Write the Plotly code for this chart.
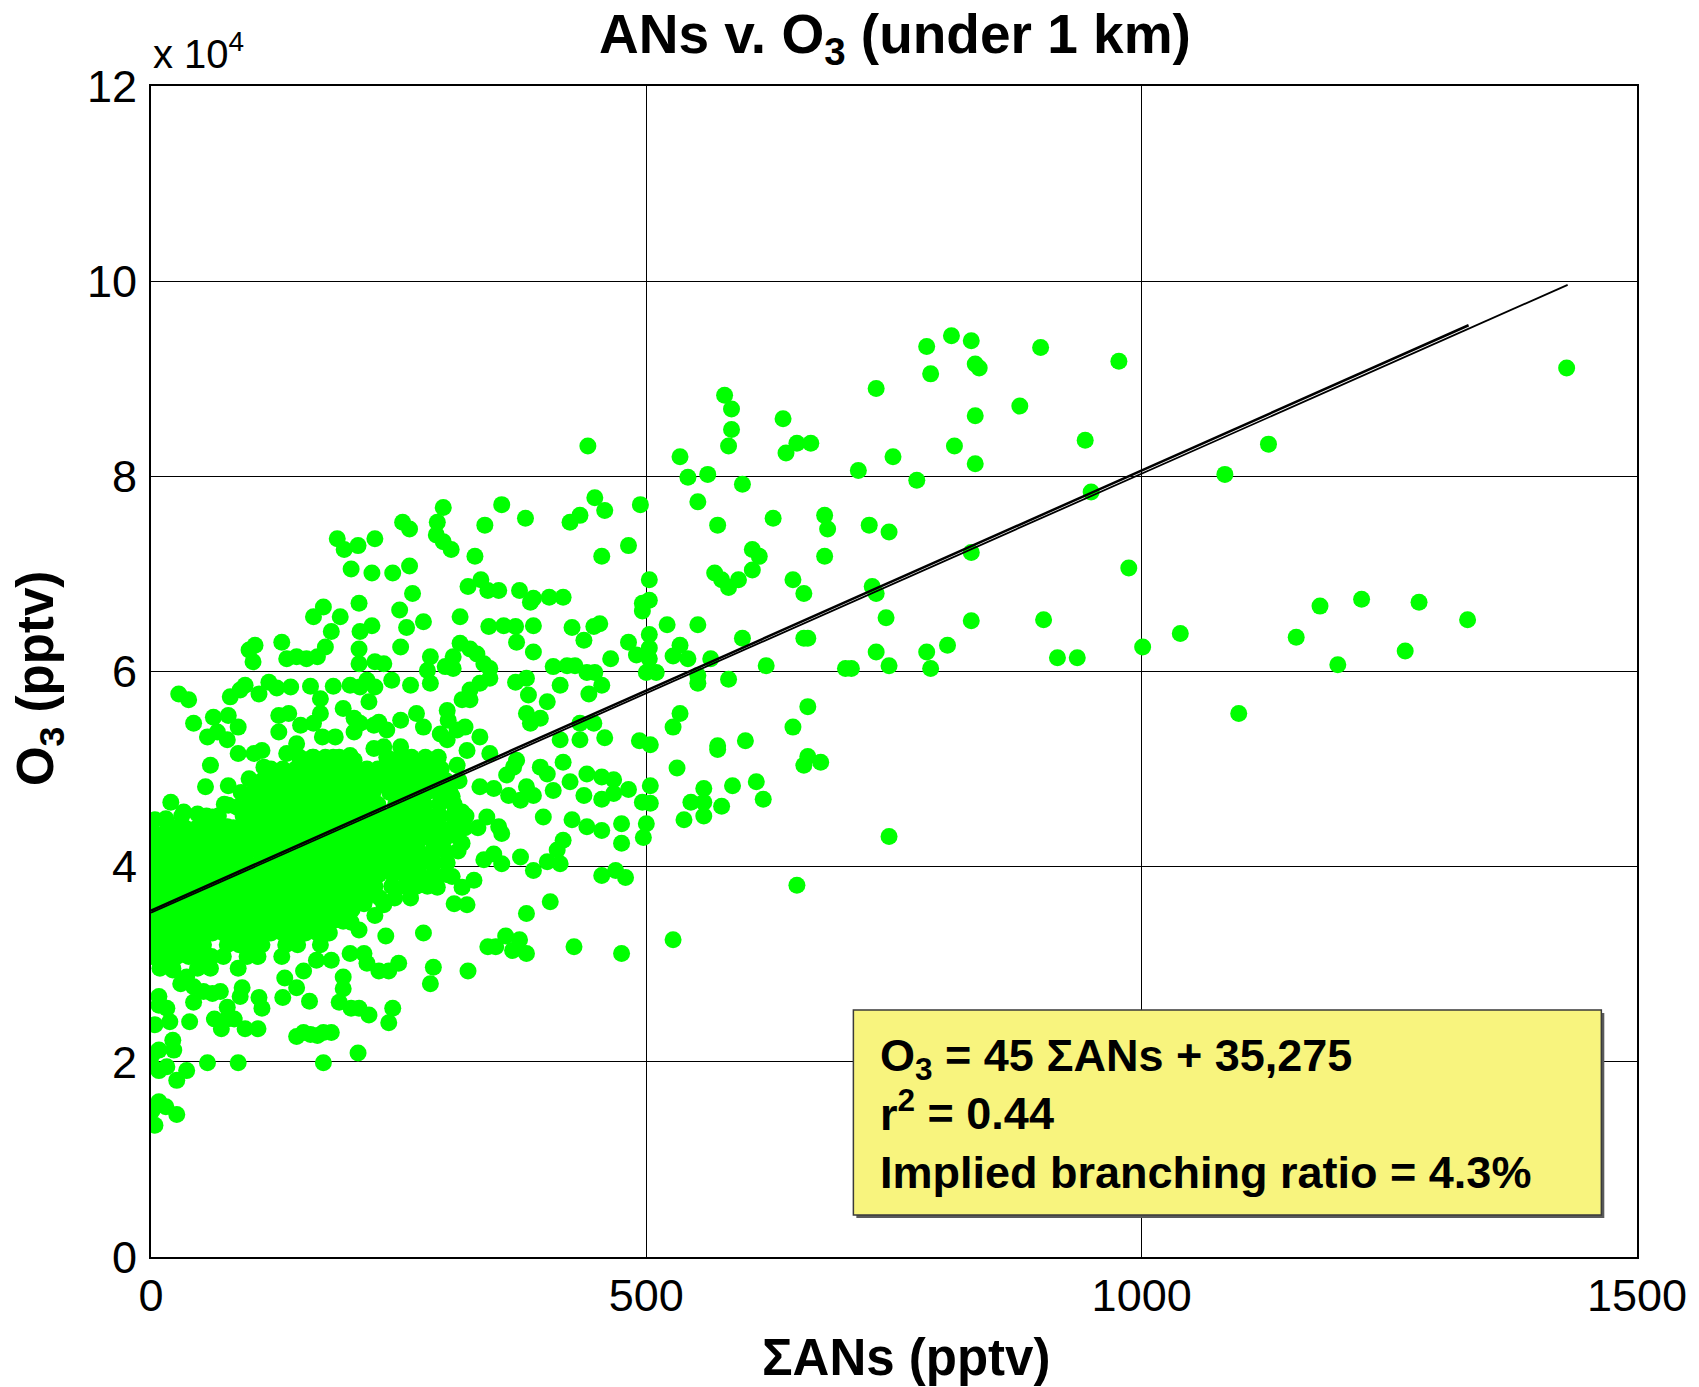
import plotly.graph_objects as go

# Sigma-ANs (pptv) vs O3, O3 stored in units of 1e4 pptv (axis multiplier "x 10^4")

far_right = [
    (898, 9.32), (977, 9.18), (877, 8.72), (943, 8.37), (1429, 9.11), (1128, 8.33),
    (1084, 8.02), (949, 7.84), (987, 7.06), (901, 6.53), (915, 6.14), (935, 6.14),
    (1001, 6.25), (1039, 6.39), (1156, 6.35), (1180, 6.67), (1222, 6.74), (1280, 6.71),
    (1329, 6.53), (1266, 6.21), (1198, 6.07), (1098, 5.57),
]

mid_upper = [
    (808, 9.44), (828, 9.39), (783, 9.33), (832, 9.15), (836, 9.11), (787, 9.05),
    (732, 8.90), (579, 8.83), (586, 8.69), (832, 8.62), (638, 8.59), (586, 8.48),
    (583, 8.31), (652, 8.34), (666, 8.34), (641, 8.24), (811, 8.31), (749, 8.20),
    (832, 8.13), (534, 8.20), (542, 7.99), (562, 8.02), (714, 8.06), (773, 7.96),
    (597, 7.92), (552, 7.74), (494, 7.71), (572, 7.50), (628, 7.57), (680, 7.60),
    (683, 7.46), (725, 7.50), (745, 7.43), (607, 7.25), (614, 7.18), (607, 7.04),
    (680, 7.18), (828, 7.22), (569, 7.01), (576, 6.94), (583, 6.86), (593, 6.94),
    (503, 6.94), (648, 6.94), (659, 6.80), (728, 6.87), (732, 6.80), (496, 6.70),
    (503, 6.73), (496, 6.62), (742, 6.55), (828, 6.52), (521, 6.48), (552, 6.48),
    (503, 6.38), (597, 6.34), (659, 6.34), (663, 6.34), (732, 6.20), (745, 6.06),
    (783, 6.20), (804, 6.27), (787, 6.03), (701, 6.03), (707, 6.03), (621, 6.06),
    (583, 5.92), (552, 5.96), (552, 5.88), (534, 6.27), (527, 6.16), (542, 6.13),
    (565, 6.13), (503, 6.24), (503, 6.13), (500, 5.99), (510, 5.99),
]

mid_lower = [
    (455, 5.86), (663, 5.64), (648, 5.43), (534, 5.57), (527, 5.43), (458, 5.32),
    (493, 5.29), (504, 5.25), (572, 5.24), (572, 5.20), (600, 5.29), (663, 5.13),
    (659, 5.04), (676, 5.07), (531, 5.01), (504, 4.83), (496, 4.66), (504, 4.65),
    (482, 4.79), (467, 4.89), (467, 4.75), (455, 4.69), (455, 4.92), (558, 4.80),
    (545, 4.66), (558, 4.66), (558, 4.52), (538, 4.48), (576, 4.62), (587, 4.83),
    (611, 4.87), (618, 4.69), (475, 4.44), (500, 4.44), (497, 4.30), (475, 4.24),
    (455, 4.37), (745, 4.31), (469, 3.96), (479, 3.89), (455, 3.91), (652, 3.81),
    (527, 3.25), (475, 3.11),
]

upper_left = [
    (441, 8.31), (448, 7.78), (458, 7.65), (482, 7.29), (455, 7.18), (423, 7.53),
    (433, 7.60), (378, 7.57), (354, 7.71), (337, 7.50), (327, 7.18), (295, 7.68),
    (289, 7.53), (288, 7.40), (295, 7.33), (303, 7.25), (254, 7.53), (261, 7.46),
    (188, 7.36), (195, 7.25), (209, 7.29), (226, 7.36), (202, 7.05), (223, 7.01),
    (244, 7.01), (261, 7.08), (264, 6.80), (320, 6.87), (333, 6.94), (340, 6.83),
    (351, 6.83), (372, 6.83), (383, 6.71), (386, 6.75), (402, 6.76), (416, 6.76),
]

centre_band = [
    (251, 6.63), (258, 6.45), (275, 6.51), (312, 6.56), (341, 6.46), (356, 6.47),
    (368, 6.46), (369, 6.30), (386, 6.47), (386, 6.20), (425, 6.45), (437, 6.32),
    (447, 6.46), (453, 6.49), (482, 6.30), (490, 6.17), (464, 6.13), (440, 5.99),
    (448, 5.99), (442, 5.77), (406, 6.05), (420, 6.06), (428, 6.06), (413, 5.86),
    (400, 5.69), (368, 5.89), (379, 5.93), (381, 5.76), (379, 5.57), (393, 5.52),
    (383, 5.47), (342, 6.03), (336, 6.08), (342, 5.93), (332, 5.88), (322, 5.81),
    (314, 5.71), (322, 5.71), (312, 6.29), (322, 6.23), (329, 6.18), (305, 6.15),
    (297, 6.05), (282, 6.15), (279, 6.01), (282, 5.88), (305, 6.03), (262, 5.86),
    (243, 5.91), (252, 6.25), (235, 6.08), (268, 5.57), (275, 5.43), (299, 5.60),
    (300, 5.50), (292, 5.36), (309, 5.40), (317, 5.43), (332, 5.33), (299, 5.30),
    (319, 5.19), (252, 5.50), (238, 5.40), (235, 5.23), (242, 5.09), (252, 5.23),
    (265, 5.09), (272, 4.99), (258, 4.92), (242, 4.89), (235, 4.99), (309, 5.04),
    (287, 4.94), (280, 4.87), (299, 4.82), (304, 4.72), (307, 4.60), (314, 4.56),
    (312, 4.48), (279, 4.78), (265, 4.77), (250, 4.82), (238, 4.82), (235, 4.51),
    (264, 4.51), (282, 4.39), (290, 4.20), (299, 4.37), (309, 4.31), (314, 4.24),
    (255, 4.31), (247, 4.10), (235, 4.07), (258, 4.17), (268, 4.19), (275, 4.07),
    (285, 4.03), (268, 3.93), (258, 3.90), (238, 3.96), (289, 3.79), (304, 3.90),
    (314, 3.79), (326, 3.86), (306, 3.62), (319, 3.61), (235, 3.61), (332, 4.82),
    (346, 4.80), (361, 4.73), (373, 4.68), (379, 4.82), (393, 5.02), (400, 4.95),
    (406, 4.78), (386, 4.73), (416, 5.07), (413, 5.30), (433, 5.30), (433, 5.47),
    (447, 5.47), (423, 4.87), (440, 4.95), (437, 4.73), (342, 5.16), (359, 4.94),
    (369, 5.09), (366, 5.02), (339, 4.51), (351, 4.41), (354, 4.34), (396, 4.51),
    (425, 4.48), (440, 4.41), (416, 4.27), (410, 4.17), (413, 4.03), (400, 4.05),
    (386, 3.96), (373, 4.10), (346, 4.13), (336, 4.07), (354, 4.03), (403, 3.64),
    (379, 3.52),
]

left_band = [
    (174, 6.66), (164, 6.56), (191, 6.56), (210, 6.70), (182, 6.41), (211, 6.41),
    (223, 6.47), (99, 6.22), (105, 6.27), (103, 6.10), (132, 6.30), (137, 6.13),
    (147, 6.15), (157, 6.13), (168, 6.15), (176, 6.25), (210, 6.23), (210, 6.08),
    (226, 6.10), (28, 5.77), (38, 5.71), (80, 5.74), (90, 5.81), (95, 5.86),
    (109, 5.77), (119, 5.89), (127, 5.83), (141, 5.84), (161, 5.85), (184, 5.85),
    (171, 5.72), (201, 5.86), (211, 5.84), (218, 5.91), (226, 5.84), (220, 5.69),
    (43, 5.47), (63, 5.53), (78, 5.55), (88, 5.43), (57, 5.33), (67, 5.38),
    (77, 5.30), (129, 5.55), (139, 5.57), (151, 5.45), (129, 5.38), (164, 5.47),
    (171, 5.57), (173, 5.33), (186, 5.33), (194, 5.62), (205, 5.52), (205, 5.38),
    (211, 5.47), (225, 5.45), (230, 5.48), (88, 5.16), (104, 5.16), (112, 5.19),
    (60, 5.04), (114, 5.02), (137, 5.16), (147, 5.26), (164, 5.12), (184, 5.12),
    (201, 5.14), (225, 5.21), (99, 4.90), (114, 4.85), (141, 4.92), (161, 5.04),
    (178, 5.01), (196, 5.02), (205, 5.09), (55, 4.82), (78, 4.83), (20, 4.66),
    (33, 4.56), (47, 4.54), (62, 4.51), (78, 4.63), (87, 4.61), (4, 4.48),
    (15, 4.49), (3, 4.34), (16, 4.37), (40, 4.34), (57, 4.37), (67, 4.31),
    (77, 4.41), (87, 4.34), (104, 4.44), (122, 4.46), (131, 4.54), (6, 4.00),
    (16, 4.07), (40, 3.93), (43, 4.20), (70, 4.17), (97, 4.20), (117, 4.27),
    (114, 4.05), (134, 4.34), (141, 4.61), (158, 4.68), (171, 4.51), (191, 4.65),
    (225, 4.54),
]

lower_left = [
    (275, 3.32), (237, 3.29), (340, 3.18), (348, 3.18), (358, 3.29), (372, 3.25),
    (365, 3.14), (379, 3.11), (427, 3.18), (250, 3.01), (240, 2.93), (285, 2.97),
    (282, 2.80), (320, 2.93), (244, 2.55), (240, 2.40), (230, 2.93), (218, 3.01),
    (201, 3.11), (215, 3.11), (194, 2.87), (194, 2.75), (190, 2.61), (202, 2.55),
    (210, 2.55), (220, 2.48), (209, 2.09), (174, 1.99), (154, 2.30), (161, 2.28),
    (168, 2.27), (174, 2.30), (182, 2.30), (147, 2.26), (160, 2.62), (133, 2.66),
    (154, 2.93), (147, 2.76), (135, 2.86), (167, 3.04), (182, 3.04), (109, 2.66),
    (112, 2.55), (108, 2.34), (95, 2.34), (77, 2.44), (71, 2.34), (84, 2.44),
    (77, 2.56), (64, 2.44), (57, 1.99), (88, 1.99), (39, 2.41), (19, 2.41),
    (4, 2.38), (8, 2.67), (8, 2.58), (16, 2.55), (22, 2.22), (23, 2.12),
    (8, 2.12), (1, 2.07), (1, 1.96), (8, 1.91), (16, 1.95), (26, 1.81),
    (36, 1.91), (8, 1.59), (15, 1.54), (1, 1.50), (26, 1.46), (4, 1.35),
    (22, 2.94), (30, 2.80), (36, 2.87), (43, 2.77), (53, 2.72), (62, 2.70),
    (70, 2.72), (43, 2.61), (90, 2.67), (92, 2.76), (198, 3.62), (215, 3.62),
    (226, 3.50), (202, 3.43), (210, 3.35), (160, 3.36), (178, 3.32),
]

# densest part of the cloud, one row of points per O3 level
core_upper = [
    (5.12, [150, 163, 176, 190, 238, 251, 263, 277, 290]),
    (5.00, [121, 133, 146, 157, 170, 182, 193, 206, 218, 229, 244, 256, 268, 281, 293]),
    (4.88, [112, 124, 137, 148, 161, 172, 185, 197, 208, 221, 232, 246, 259, 272, 285, 298, 311]),
    (4.76, [91, 103, 116, 127, 139, 152, 163, 176, 187, 199, 211, 224, 241, 253, 266, 278, 290, 302]),
    (4.64, [74, 99, 110, 122, 135, 146, 158, 171, 182, 194, 205, 218, 229, 247, 262, 276, 291, 306]),
    (4.52, [31, 56, 68, 93, 104, 117, 129, 141, 153, 165, 177, 188, 201, 213, 226, 243, 255, 268, 280, 292, 305, 318]),
    (4.40, [22, 34, 47, 58, 71, 83, 95, 108, 119, 132, 143, 156, 168, 179, 192, 204, 216, 228, 240, 252, 265, 278, 291, 304, 317, 330]),
    (4.28, [6, 18, 30, 43, 54, 67, 78, 90, 103, 114, 127, 138, 151, 162, 175, 187, 198, 211, 222, 234, 246, 259, 271, 283, 296]),
]

core_lower = [
    (4.16, [4, 15, 28, 40, 51, 64, 76, 88, 99, 112, 124, 135, 148, 160, 171, 184, 195, 208, 219, 231, 243, 256, 270, 284, 297, 310]),
    (4.04, [2, 13, 25, 38, 49, 61, 74, 85, 97, 110, 121, 133, 145, 157, 169, 181, 193, 204, 216, 228, 248, 261, 274, 286, 299]),
    (3.92, [3, 16, 27, 39, 52, 63, 75, 87, 100, 112, 123, 136, 147, 159, 172, 183, 195, 207, 218, 230, 244, 257, 271, 285, 298]),
    (3.80, [1, 12, 24, 37, 48, 60, 72, 84, 96, 108, 120, 131, 144, 155, 167, 179, 191, 202, 214, 226, 243, 256, 268, 279]),
    (3.68, [4, 15, 27, 40, 51, 63, 75, 86, 99, 110, 122, 134, 146, 158, 170, 181, 193, 205, 217, 231, 246, 262]),
    (3.56, [2, 13, 26, 37, 49, 61, 73, 85, 97, 109, 120, 132, 144, 156, 168, 180, 191, 203]),
    (3.44, [5, 17, 28, 40, 52, 64, 76, 88, 99, 111, 123, 135, 147, 159, 171, 183, 194]),
    (3.32, [3, 14, 26, 38, 50, 62, 73, 85, 97, 109, 121, 133, 145, 156, 168, 180]),
    (3.20, [6, 18, 29, 41, 53, 77, 89, 100, 112, 136, 148, 171]),
    (3.08, [2, 14, 26, 38, 49, 61, 73, 97, 108, 132]),
    (2.96, [9, 22, 47, 60, 88]),
]

# least-squares fit quoted in the legend box (O3 in pptv)
SLOPE = 45
INTERCEPT = 35275
R_SQUARED = 0.44
BRANCHING_PCT = 4.3
FIT_X = [0, 1430]
# second fit drawn alongside it
ALT_SLOPE = 45.1
ALT_INTERCEPT = 35500
ALT_FIT_X = [0, 1330]

scatter_pts = far_right + mid_upper + mid_lower + upper_left + centre_band + left_band + lower_left
for level, xs in core_upper + core_lower:
    scatter_pts += [(xv, level) for xv in xs]

ans = [p[0] for p in scatter_pts]
o3 = [p[1] for p in scatter_pts]

FONT = "Liberation Sans, Arial, sans-serif"

fig = go.Figure()
fig.add_trace(go.Scatter(
    x=ans, y=o3, mode="markers",
    marker=dict(color="#00ff00", size=17, line=dict(width=0)),
    hoverinfo="skip", showlegend=False,
))
fig.add_trace(go.Scatter(
    x=ALT_FIT_X, y=[(ALT_SLOPE * v + ALT_INTERCEPT) / 1e4 for v in ALT_FIT_X],
    mode="lines", line=dict(color="black", width=2.5), hoverinfo="skip", showlegend=False,
))
fig.add_trace(go.Scatter(
    x=FIT_X, y=[(SLOPE * v + INTERCEPT) / 1e4 for v in FIT_X],
    mode="lines", line=dict(color="black", width=1.8), hoverinfo="skip", showlegend=False,
))

axis_common = dict(
    showgrid=True, gridcolor="black", gridwidth=1,
    showline=True, linecolor="black", linewidth=2, mirror=True,
    zeroline=False, ticks="", tickfont=dict(family=FONT, size=45, color="black"),
)
fig.update_xaxes(range=[0, 1500], tickvals=[0, 500, 1000, 1500], ticklabelstandoff=-2, **axis_common)
fig.update_yaxes(range=[0, 12], tickvals=[0, 2, 4, 6, 8, 10, 12], ticklabelstandoff=3, **axis_common)

# legend box with fit statistics
fig.add_shape(type="rect", xref="x", yref="y", x0=712, x1=1467, y0=0.40, y1=2.50,
              fillcolor="#5a5a5a", line=dict(width=0), layer="above")
fig.add_shape(type="rect", xref="x", yref="y", x0=709, x1=1464, y0=0.43, y1=2.53,
              fillcolor="#f8f47e", line=dict(color="#3a3a3a", width=1.5), layer="above")

box_text = (f"<b>O<sub>3</sub> = {SLOPE} ΣANs + {INTERCEPT:,}<br>"
            f"r<sup>2</sup> = {R_SQUARED}<br>"
            f"Implied branching ratio = {BRANCHING_PCT}%</b>")

annotations = [
    dict(text=box_text, xref="x", yref="y", x=734, y=1.47, xanchor="left", yanchor="middle",
         align="left", showarrow=False, font=dict(family=FONT, size=45, color="black")),
    dict(text="<b>ANs v. O<sub>3</sub> (under 1 km)</b>", xref="paper", yref="paper",
         x=0.501, y=1.041, xanchor="center", yanchor="middle", showarrow=False,
         font=dict(family=FONT, size=55, color="black")),
    dict(text="x 10<sup>4</sup>", xref="paper", yref="paper", x=0.0, y=1.030,
         xanchor="left", yanchor="middle", showarrow=False,
         font=dict(family=FONT, size=40, color="black")),
    dict(text="<b>ΣANs (pptv)</b>", xref="paper", yref="paper", x=0.508, y=-0.086,
         xanchor="center", yanchor="middle", showarrow=False,
         font=dict(family=FONT, size=51, color="black")),
    dict(text="<b>O<sub>3</sub> (pptv)</b>", xref="paper", yref="paper", x=-0.075, y=0.494,
         xanchor="center", yanchor="middle", textangle=-90, showarrow=False,
         font=dict(family=FONT, size=51, color="black")),
]

fig.update_layout(
    width=1699, height=1387,
    margin=dict(l=151, r=62, t=86, b=130),
    paper_bgcolor="white", plot_bgcolor="white",
    annotations=annotations,
    showlegend=False,
)

fig.write_html("out.html")
